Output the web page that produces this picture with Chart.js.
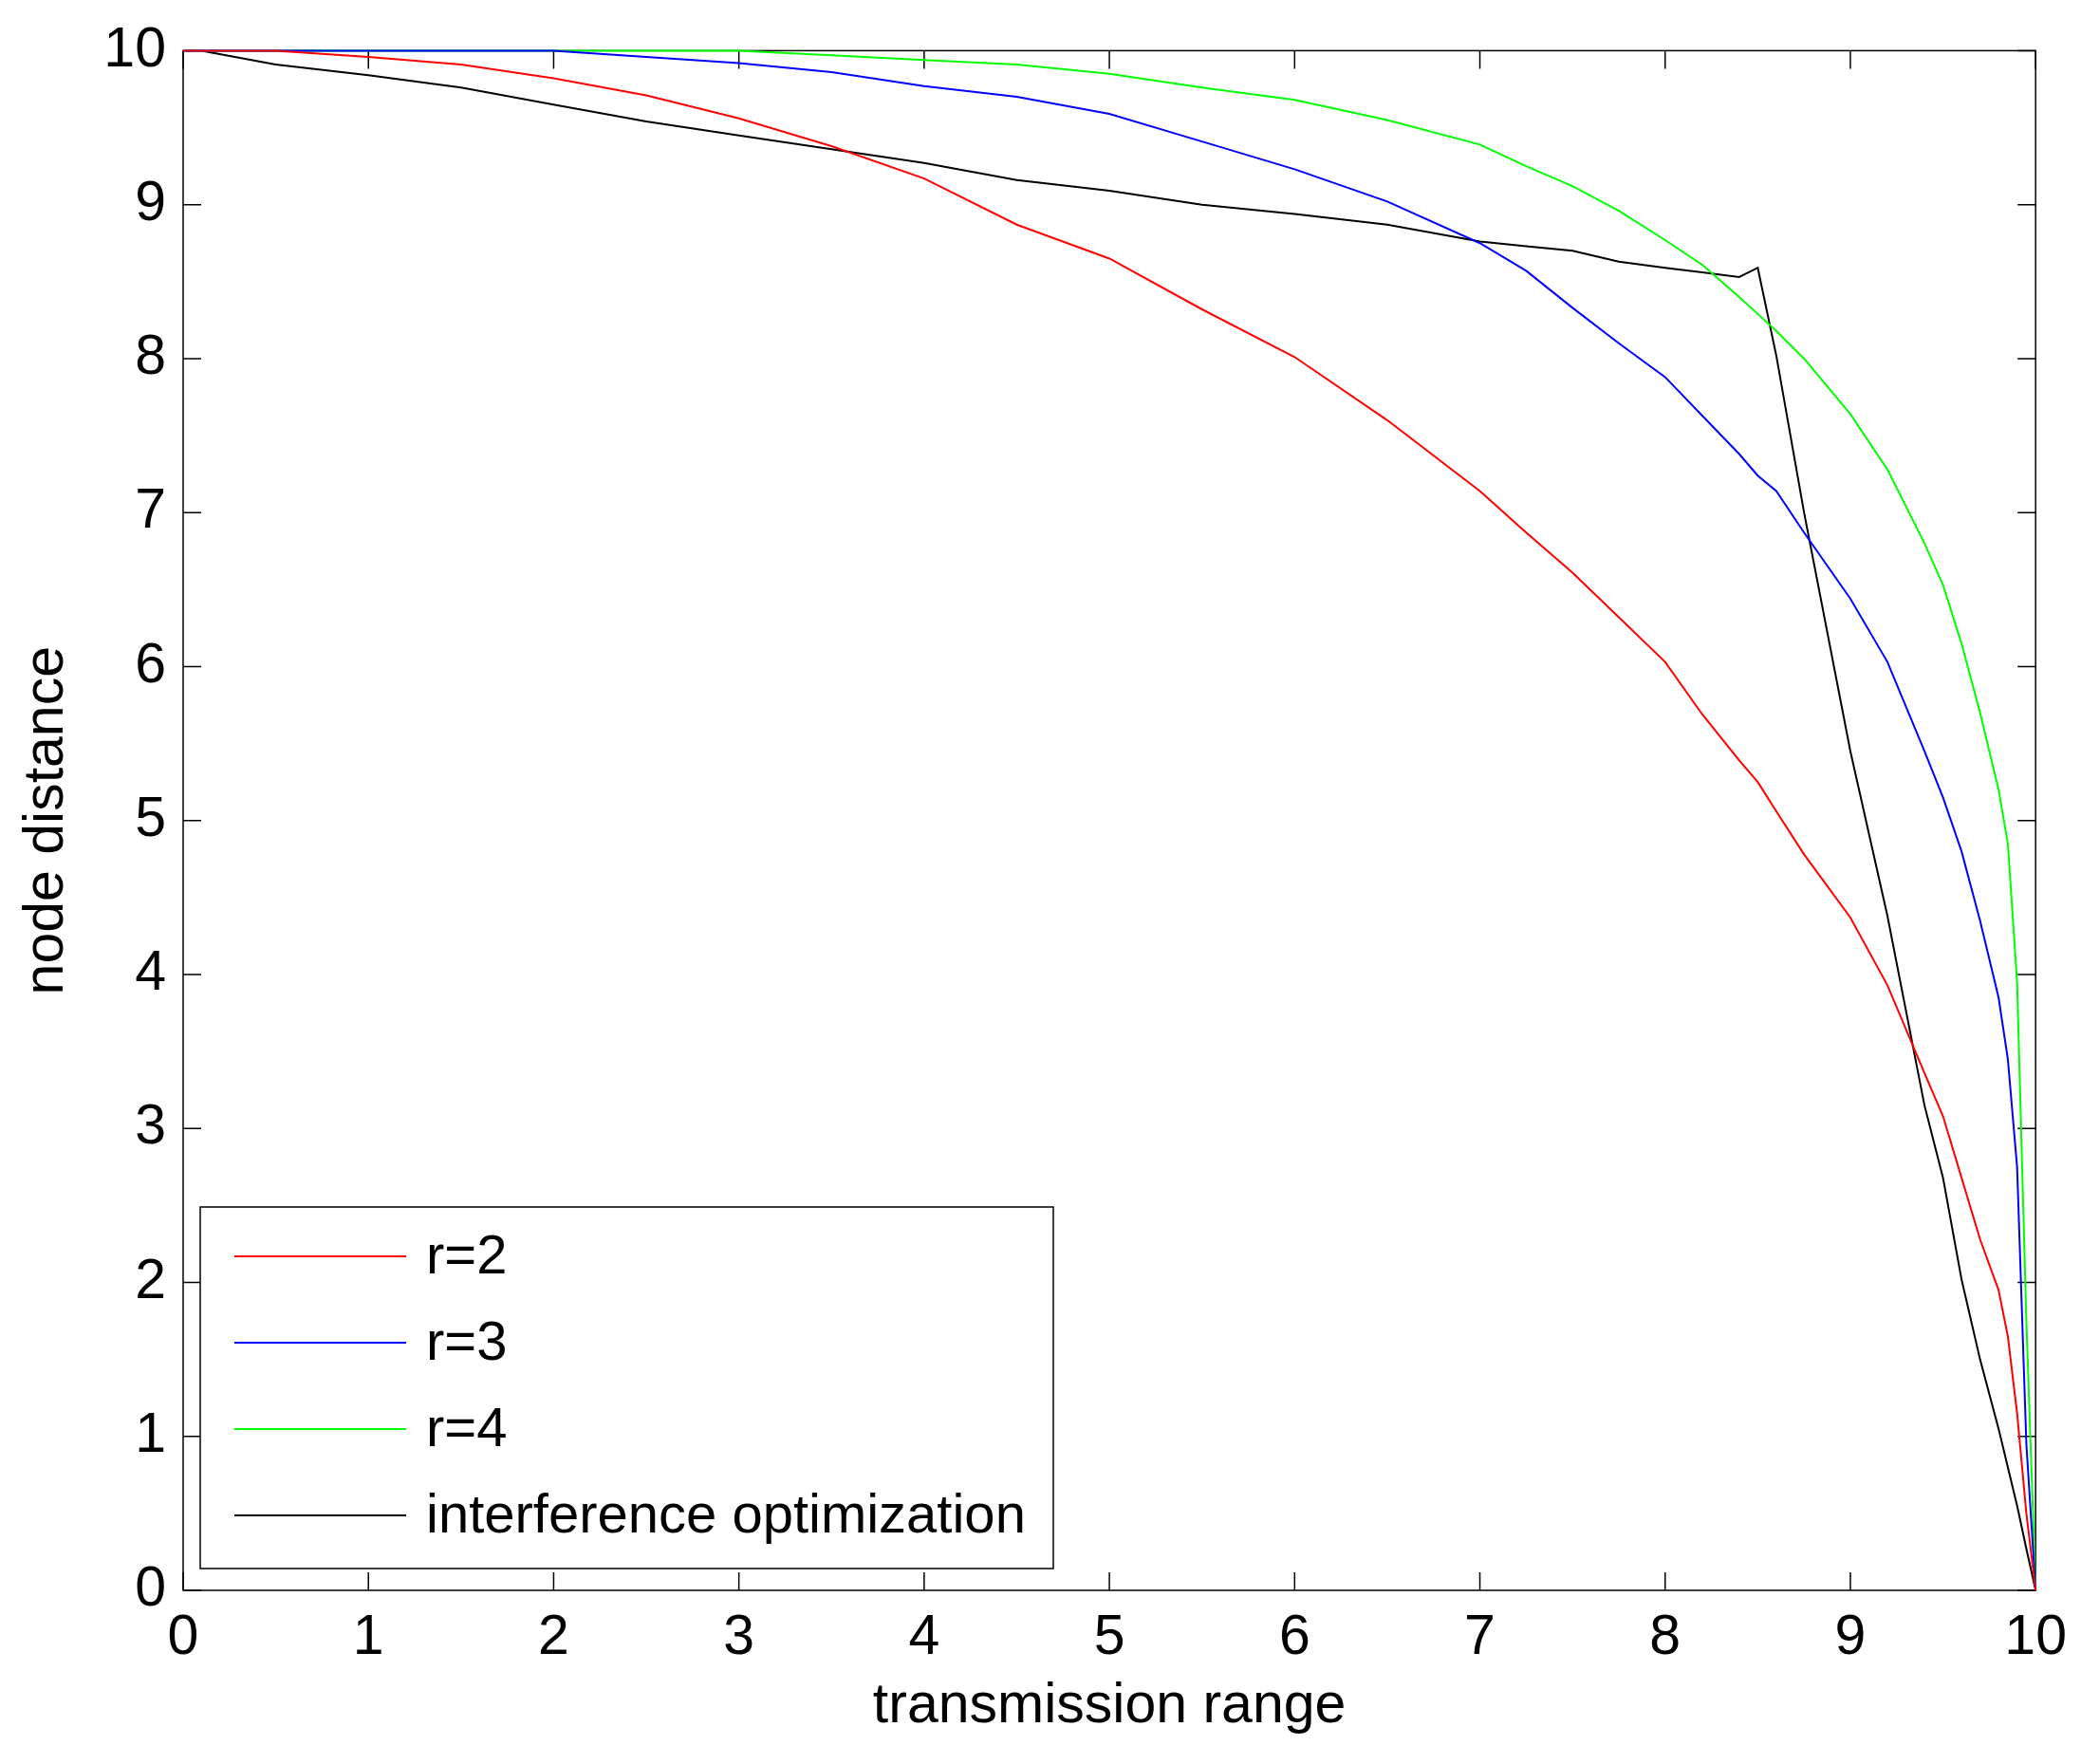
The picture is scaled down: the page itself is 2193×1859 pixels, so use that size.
<!DOCTYPE html>
<html>
<head>
<meta charset="utf-8">
<title>node distance vs transmission range</title>
<script src="https://cdn.jsdelivr.net/npm/chart.js@4.4.1/dist/chart.umd.min.js"></script>
<style>
  html, body { margin: 0; padding: 0; background: #fff; overflow: hidden; }
  canvas { display: block; }
</style>
</head>
<body>
<canvas id="chart" width="2193" height="1859"></canvas>
<script>
// x positions (transmission range) shared by all series
const range = [0, 0.1, 0.5, 1, 1.5, 2, 2.5, 3, 3.5, 4, 4.5, 5, 5.5, 6, 6.5, 7, 7.25, 7.5, 7.75, 8,
  8.2, 8.4, 8.5, 8.6, 8.75, 9, 9.2, 9.4, 9.5, 9.6, 9.7, 9.8, 9.85, 9.9, 9.95, 10];

// node distance
const r2 = [10, 10, 10, 9.96, 9.91, 9.82, 9.71, 9.56, 9.38, 9.17, 8.87, 8.65, 8.32, 8.01, 7.60, 7.14, 6.87, 6.61, 6.32, 6.03,
  5.69, 5.39, 5.25, 5.06, 4.78, 4.37, 3.93, 3.36, 3.08, 2.68, 2.28, 1.95, 1.65, 1.15, 0.50, 0];
const r3 = [10, 10, 10, 10, 10, 10, 9.96, 9.92, 9.86, 9.77, 9.70, 9.59, 9.41, 9.23, 9.02, 8.75, 8.57, 8.33, 8.10, 7.88,
  7.63, 7.38, 7.24, 7.14, 6.87, 6.44, 6.03, 5.45, 5.15, 4.80, 4.35, 3.85, 3.45, 2.75, 0.95, 0];
const r4 = [10, 10, 10, 10, 10, 10, 10, 10, 9.97, 9.94, 9.91, 9.85, 9.76, 9.68, 9.55, 9.39, 9.25, 9.12, 8.96, 8.77,
  8.61, 8.40, 8.29, 8.18, 8.00, 7.64, 7.28, 6.80, 6.53, 6.15, 5.70, 5.20, 4.85, 3.95, 1.75, 0];
const interference = [null, 10, 9.91, 9.84, 9.76, 9.65, 9.54, 9.45, 9.36, 9.27, 9.16, 9.09, 9.00, 8.94, 8.87, 8.76, 8.73, 8.70, 8.63, 8.59,
  8.56, 8.53, 8.59, 8.02, 7.00, 5.45, 4.38, 3.15, 2.68, 2.02, 1.50, 1.05, 0.80, 0.55, 0.27, 0];

const seriesNames = ['r=2', 'r=3', 'r=4', 'interference optimization'];
const seriesColors = ['#ff0000', '#0000ff', '#00ff00', '#000000'];
const seriesValues = [r2, r3, r4, interference];

const FONT = "'Liberation Sans', Arial, Helvetica, sans-serif";
const FONT_SIZE = 59;
const TICK_LEN = 19;

// Box + inward tick marks on all four sides (MATLAB style)
const frameAndTicks = {
  id: 'frameAndTicks',
  beforeDatasetsDraw(chart) {
    const { ctx, chartArea: { left, right, top, bottom }, scales: { x, y } } = chart;
    ctx.save();
    ctx.strokeStyle = '#000';
    ctx.lineWidth = 1.5;
    ctx.strokeRect(left, top, right - left, bottom - top);
    ctx.beginPath();
    x.ticks.forEach(t => {
      const px = x.getPixelForValue(t.value);
      ctx.moveTo(px, bottom); ctx.lineTo(px, bottom - TICK_LEN);
      ctx.moveTo(px, top); ctx.lineTo(px, top + TICK_LEN);
    });
    y.ticks.forEach(t => {
      const py = y.getPixelForValue(t.value);
      ctx.moveTo(left, py); ctx.lineTo(left + TICK_LEN, py);
      ctx.moveTo(right, py); ctx.lineTo(right - TICK_LEN, py);
    });
    ctx.stroke();
    ctx.restore();
  }
};

// Legend box inside the lower left of the plot
const insetLegend = {
  id: 'insetLegend',
  afterDraw(chart) {
    const { ctx, chartArea } = chart;
    const boxL = chartArea.left + 18;
    const boxW = 899, boxH = 381;
    const boxT = chartArea.bottom - 23 - boxH;
    ctx.save();
    ctx.fillStyle = '#fff';
    ctx.fillRect(boxL, boxT, boxW, boxH);
    ctx.strokeStyle = '#000';
    ctx.lineWidth = 1.5;
    ctx.strokeRect(boxL, boxT, boxW, boxH);
    ctx.font = '58px ' + FONT;
    ctx.textBaseline = 'middle';
    ctx.textAlign = 'left';
    chart.data.datasets.forEach((ds, i) => {
      const rowY = boxT + 52 + i * 91;
      ctx.strokeStyle = ds.borderColor;
      ctx.lineWidth = 2;
      ctx.beginPath();
      ctx.moveTo(boxL + 36, rowY);
      ctx.lineTo(boxL + 217, rowY);
      ctx.stroke();
      ctx.fillStyle = '#000';
      ctx.fillText(ds.label, boxL + 238, rowY + 2);
    });
    ctx.restore();
  }
};

const datasets = seriesNames.map((name, i) => ({
  label: name,
  data: range.map((v, j) => ({ x: v, y: seriesValues[i][j] })),
  borderColor: seriesColors[i],
  backgroundColor: seriesColors[i],
  borderWidth: 2,
  pointRadius: 0,
  tension: 0,
  fill: false,
  clip: false
}));

new Chart(document.getElementById('chart').getContext('2d'), {
  type: 'line',
  data: { datasets: datasets },
  options: {
    responsive: false,
    devicePixelRatio: 1,
    animation: false,
    layout: { padding: { top: 51, right: 45, bottom: 0, left: 0 } },
    plugins: {
      legend: { display: false },
      tooltip: { enabled: false }
    },
    scales: {
      x: {
        type: 'linear',
        min: 0,
        max: 10,
        grid: { display: false, drawTicks: false },
        border: { display: false },
        ticks: {
          stepSize: 1,
          padding: 15,
          maxRotation: 0,
          autoSkip: false,
          color: '#000',
          font: { family: FONT, size: FONT_SIZE }
        },
        title: {
          display: true,
          text: 'transmission range',
          color: '#000',
          font: { family: FONT, size: FONT_SIZE },
          padding: { top: 0, bottom: 25 }
        },
        afterFit: s => { s.height = 183; }
      },
      y: {
        type: 'linear',
        min: 0,
        max: 10,
        grid: { display: false, drawTicks: false },
        border: { display: false },
        ticks: {
          stepSize: 1,
          padding: 18,
          color: '#000',
          font: { family: FONT, size: FONT_SIZE }
        },
        title: {
          display: true,
          text: 'node distance',
          color: '#000',
          font: { family: FONT, size: FONT_SIZE },
          padding: { top: 14, bottom: 0 }
        },
        afterFit: s => { s.width = 193; }
      }
    }
  },
  plugins: [frameAndTicks, insetLegend]
});
</script>
</body>
</html>
